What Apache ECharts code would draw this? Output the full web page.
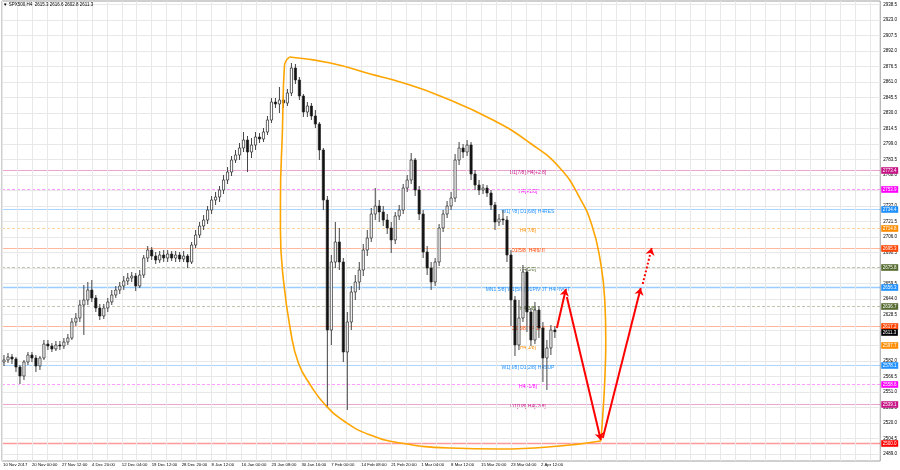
<!DOCTYPE html>
<html><head><meta charset="utf-8">
<script src="https://cdn.jsdelivr.net/npm/echarts@6/dist/echarts.min.js"></script>
<style>html,body{margin:0;padding:0;background:#fff}#c{width:900px;height:470px}</style>
</head><body><div id="c"></div>
<script>
const symbolName = 'SPX500,H4';
const headerOHLC = [2615.3, 2616.6, 2602.8, 2611.3];

const opens = [2581,2583,2586,2584,2576,2567,2581,2588,2585,2577,
2585,2599,2597,2594,2598,2597,2601,2605,2621,2625,
2638,2643,2653,2645,2635,2627,2635,2641,2648,2653,
2657,2662,2665,2667,2657,2668,2685,2693,2687,2683,
2688,2685,2689,2685,2688,2684,2687,2681,2698,2708,
2717,2723,2733,2743,2746,2753,2763,2771,2783,2788,
2795,2803,2791,2798,2806,2804,2811,2823,2841,2839,
2843,2840,2850,2875,2863,2847,2831,2837,2827,2819,
2793,2743,2613,2681,2701,2681,2591,2621,2651,2661,
2673,2693,2705,2729,2737,2731,2723,2715,2703,2727,
2733,2755,2763,2783,2753,2729,2691,2675,2661,2681,
2715,2729,2737,2745,2783,2795,2791,2798,2769,2758,
2753,2755,2750,2738,2721,2724,2723,2688,2643,2598,
2625,2671,2631,2603,2633,2615,2585,2595,2613];
const closes = [2583,2586,2584,2576,2567,2581,2588,2585,2577,2585,
2599,2597,2594,2598,2597,2601,2605,2621,2625,2638,
2643,2653,2645,2635,2627,2635,2641,2648,2653,2657,
2662,2665,2667,2657,2668,2685,2693,2687,2683,2688,
2685,2689,2685,2688,2684,2687,2681,2698,2708,2717,
2723,2733,2743,2746,2753,2763,2771,2783,2788,2795,
2803,2791,2798,2806,2804,2811,2823,2841,2839,2843,
2840,2850,2875,2863,2847,2831,2837,2827,2819,2793,
2743,2613,2681,2701,2681,2591,2621,2651,2661,2673,
2693,2705,2729,2737,2731,2723,2715,2703,2727,2733,
2755,2763,2783,2753,2729,2691,2675,2661,2681,2715,
2729,2737,2745,2783,2795,2791,2798,2769,2758,2753,
2755,2750,2738,2721,2724,2723,2688,2643,2598,2625,
2671,2631,2603,2633,2615,2585,2595,2613,2611.3];
const highs = [2588,2590,2589,2586,2578,2583,2591,2591,2588,2587,
2603,2603,2600,2602,2602,2605,2609,2625,2630,2643,
2658,2661,2663,2648,2639,2639,2645,2653,2657,2661,
2667,2670,2671,2670,2673,2688,2697,2696,2691,2692,
2693,2693,2692,2692,2691,2692,2689,2701,2713,2721,
2728,2737,2747,2751,2757,2768,2776,2787,2793,2800,
2811,2807,2805,2811,2810,2815,2827,2845,2845,2856,
2848,2854,2880,2879,2866,2849,2841,2840,2833,2821,
2795,2747,2688,2721,2715,2685,2631,2657,2668,2681,
2699,2713,2735,2755,2743,2737,2729,2721,2731,2738,
2759,2768,2790,2785,2757,2733,2697,2681,2685,2719,
2733,2742,2751,2789,2801,2799,2803,2801,2773,2763,
2759,2758,2753,2741,2729,2733,2727,2693,2647,2643,
2678,2675,2635,2641,2637,2621,2603,2618,2617];
const lows = [2577,2580,2579,2571,2559,2563,2578,2581,2571,2573,
2583,2593,2591,2592,2593,2594,2598,2603,2617,2621,
2608,2638,2641,2631,2623,2624,2631,2638,2645,2649,
2653,2658,2661,2652,2655,2665,2681,2683,2679,2680,
2681,2681,2682,2681,2681,2681,2675,2679,2695,2705,
2713,2719,2729,2738,2741,2749,2759,2767,2780,2783,
2791,2771,2785,2793,2800,2801,2808,2820,2835,2830,
2835,2837,2847,2859,2843,2826,2826,2823,2815,2783,
2733,2535,2598,2675,2673,2581,2533,2613,2643,2653,
2667,2687,2701,2723,2721,2717,2709,2690,2699,2723,
2729,2751,2759,2747,2723,2685,2668,2653,2657,2677,
2711,2725,2733,2741,2778,2785,2787,2763,2753,2748,
2749,2746,2733,2713,2717,2718,2681,2617,2587,2593,
2621,2611,2597,2599,2605,2561,2553,2588,2605];

const xLabelPos = [1,30,60,90,120,150,180,210,240,270,300,330,360,390,420,450,480,510,540];
const xLabelText = ['10 Nov 2017','20 Nov 00:00','27 Nov 12:00','4 Dec 20:00','12 Dec 04:00','19 Dec 12:00','28 Dec 20:00','8 Jan 12:00','16 Jan 00:00','23 Jan 08:00','30 Jan 16:00','7 Feb 00:00','14 Feb 08:00','21 Feb 20:00','1 Mar 04:00','8 Mar 12:00','15 Mar 20:00','23 Mar 04:00','2 Apr 12:00'];
const yTicks = [2489.0,2504.5,2520.0,2535.5,2551.0,2566.5,2582.0,2597.5,2613.0,2628.5,2644.0,2659.5,2675.0,2690.5,2706.0,2721.5,2737.0,2752.5,2768.0,2783.5,2799.0,2814.5,2830.0,2845.5,2861.0,2876.5,2892.0,2907.5,2923.0,2938.5];

const levels = [2773.4,2753.9,2734.4,2714.8,2695.3,2675.8,2656.3,2636.7,2617.2,2597.7,2578.1,2558.6,2539.1,2500.0];
const levelNames = ['D1[7/8] H4[+2/8]','H4[+1/8]','W1[7/8] D1[6/8] H4RES','H4[7/8]','D1[5/8] H4[6/8]','H4[5/8]','MN1[5/8] W1[5/8] D1PIVOT H4PIVOT','H4[3/8]','D1[3/8] H4[2/8]','H4[1/8]','W1[3/8] D1[2/8] H4SUP','H4[-1/8]','D1[1/8] H4[-2/8]',''];
const currentPrice = 2611.3;

const arcUpper = [[288,2886],[329,2880],[369,2869],[399,2861],[439,2847],[492,2823],[529,2800],[559,2775],[579,2745],[591,2718],[599,2685],[604,2643],[605,2603],[604,2563],[602,2528],[600,2502]];
const arcLower = [[600,2502],[559,2497],[499,2494],[449,2495],[399,2500],[369,2508],[344,2521],[324,2538],[309,2558],[297,2580],[289,2613],[282,2663],[279,2713],[279,2743],[281,2813],[283,2877],[288,2886]];

const arrowFrom = [[556,2615],[566,2646],[602,2505],[642,2659]];
const arrowTo   = [[565,2654],[600,2503],[640,2655],[651,2695]];

// ---------- styling ----------
const FONT = 'Liberation Sans, Arial, sans-serif';
const X_MIN = 0, X_MAX = 880, TEXT_X = 527;
const levelColors = ['#C71585','#FF00FF','#1E90FF','#FF8C00','#FF4500','#556B2F','#1E90FF','#556B2F','#FF4500','#FF8C00','#1E90FF','#FF00FF','#C71585','#FF0000'];
const levelDashed = [false,true,false,true,false,true,false,true,false,true,false,true,false,false];
function rgba(hex, a){const n=parseInt(hex.slice(1),16);return `rgba(${n>>16},${(n>>8)&255},${n&255},${a})`;}

const candles = opens.map((o,i)=>[2+4*i, o, closes[i], lows[i], highs[i]]);
const vGrid = []; for (let v=0; v<=870; v+=15) vGrid.push(v);
const levelData = levels.map((p,i)=>[p,i]);
levelData.push([currentPrice, -1]);

const chart = echarts.init(document.getElementById('c'), null, {renderer:'canvas'});
chart.setOption({
  animation:false,
  backgroundColor:'#fff',
  title:{text:'\u25BC ' + symbolName + '  ' + headerOHLC.map(v=>v.toFixed(1)).join(' '), left:3, top:2, padding:0,
    textStyle:{fontSize:4.5, fontWeight:'normal', color:'#000', fontFamily:FONT}},
  grid:{left:1, right:19, top:1, bottom:9, show:true, borderColor:'#a0a0a0', borderWidth:1, backgroundColor:'#fff'},
  xAxis:{type:'value', min:X_MIN, max:X_MAX, axisLine:{show:false}, axisTick:{show:false}, splitLine:{show:false},
    axisLabel:{customValues:xLabelPos, align:'left', margin:2, fontSize:4.3, color:'#000', fontFamily:FONT,
      formatter:v=>{const k=xLabelPos.indexOf(Math.round(v)); return k>=0?xLabelText[k]:'';}}},
  yAxis:{type:'value', position:'right', min:2482, max:2942, axisLine:{show:false}, axisTick:{show:false}, splitLine:{show:false},
    axisLabel:{customValues:yTicks, margin:3, fontSize:4.5, color:'#000', fontFamily:FONT, formatter:v=>Number(v).toFixed(1)}},
  series:[
    {type:'line', data:[], z:1, silent:true,
      markLine:{silent:true, symbol:'none', animation:false, label:{show:false},
        lineStyle:{color:'#e8e8e8', width:1, type:'solid'},
        data:[...yTicks.map(v=>({yAxis:v})), ...vGrid.map(v=>({xAxis:v}))]}},
    {type:'custom', z:3, silent:true, clip:false, data:levelData,
      renderItem:(params, api)=>{
        const p=api.value(0), i=api.value(1);
        const a=api.coord([X_MIN,p]), b=api.coord([X_MAX,p]);
        const y=Math.round(a[1])+0.5;
        const children=[];
        if(i>=0){
          children.push({type:'line', shape:{x1:a[0],y1:y,x2:b[0],y2:y},
            style:{stroke:rgba(levelColors[i], i===13?0.4:(i===6?0.45:0.38)), lineWidth:(i===6||i===13)?1.6:1, lineDash:levelDashed[i]?[3,2]:null}});
          if(levelNames[i]) children.push({type:'text', x:api.coord([TEXT_X,p])[0], y:y+2.3,
            style:{text:levelNames[i], fill:levelColors[i], font:'5px '+FONT, align:'center', verticalAlign:'middle'}});
        }
        children.push({type:'text', x:b[0]+1, y:y, z2:(i<0?20:10),
          style:{text:p.toFixed(1), fill:'#fff', font:'4.5px '+FONT, align:'left', verticalAlign:'middle',
            backgroundColor:i<0?'#000':levelColors[i], padding:[1,1.6,0.6,1.6]}});
        return {type:'group', children};
      }},
    {type:'custom', z:5, silent:true, data:candles,
      renderItem:(params, api)=>{
        const x=api.value(0), o=api.value(1), c=api.value(2), l=api.value(3), h=api.value(4);
        const pO=api.coord([x,o]), pC=api.coord([x,c]), pL=api.coord([x,l]), pH=api.coord([x,h]);
        const w=api.size([2.2,0])[0];
        const top=Math.min(pO[1],pC[1]), bot=Math.max(pO[1],pC[1]);
        const bull=c>=o;
        return {type:'group', children:[
          {type:'line', shape:{x1:pH[0],y1:pH[1],x2:pL[0],y2:pL[1]}, style:{stroke:'#444', lineWidth:1}},
          {type:'rect', shape:{x:pO[0]-w/2, y:top, width:w, height:Math.max(bot-top,1)},
            style:{fill:bull?'#fff':'#111', stroke:'#222', lineWidth:0.7}}
        ]};
      }},
    {type:'line', z:6, silent:true, data:arcUpper, smooth:0.5, showSymbol:false, lineStyle:{color:'#FFA500', width:1.6}},
    {type:'line', z:6, silent:true, data:arcLower, smooth:0.5, showSymbol:false, lineStyle:{color:'#FFA500', width:1.6}},
    {type:'lines', coordinateSystem:'cartesian2d', z:7, silent:true, symbol:['none','arrow'], symbolSize:[0,7],
      lineStyle:{color:'#FF0000', width:2, opacity:1},
      data:arrowFrom.map((f,i)=>({coords:[f, arrowTo[i]], lineStyle:{type: i===3?[2,2]:'solid'}}))}
  ]
});
</script></body></html>
